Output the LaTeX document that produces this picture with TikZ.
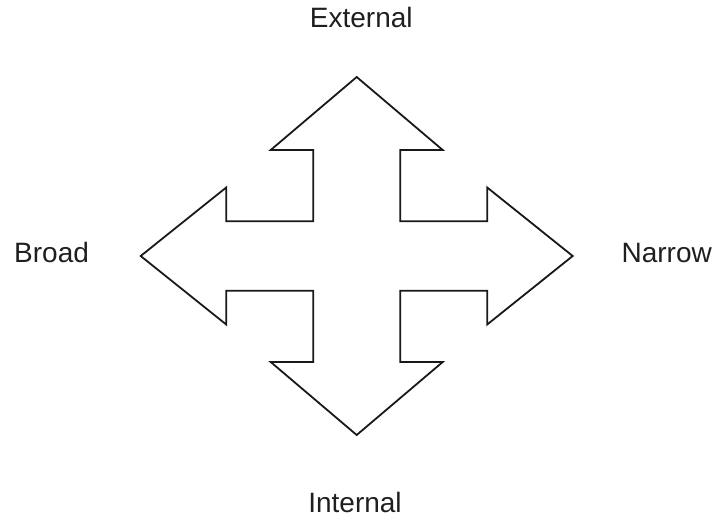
\documentclass[tikz,border=0pt]{standalone}
\usepackage{fontspec}
\setmainfont{Liberation Sans}
\begin{document}
\begin{tikzpicture}[x=1pt,y=-1pt,
  outline/.style={draw=black!90, line width=1.8pt, line join=miter},
  lbl/.style={inner sep=0pt, font=\fontsize{28}{32}\selectfont, text=black!88}]
\useasboundingbox (0,0) rectangle (716,517);

% centre of the four-way arrow and its proportions
\def\cx{356.7}\def\cy{256}
% vertical arms
\def\vtip{179}\def\vbase{106}\def\vhead{86}\def\vshaft{43.5}
% horizontal arms
\def\htip{216}\def\hbase{130.5}\def\hhead{68.5}\def\hshaft{34.8}

\draw[outline]
  (\cx,\cy-\vtip)
  -- (\cx+\vhead,\cy-\vbase) -- (\cx+\vshaft,\cy-\vbase)
  -- (\cx+\vshaft,\cy-\hshaft) -- (\cx+\hbase,\cy-\hshaft)
  -- (\cx+\hbase,\cy-\hhead) -- (\cx+\htip,\cy)
  -- (\cx+\hbase,\cy+\hhead) -- (\cx+\hbase,\cy+\hshaft)
  -- (\cx+\vshaft,\cy+\hshaft) -- (\cx+\vshaft,\cy+\vbase)
  -- (\cx+\vhead,\cy+\vbase) -- (\cx,\cy+\vtip)
  -- (\cx-\vhead,\cy+\vbase) -- (\cx-\vshaft,\cy+\vbase)
  -- (\cx-\vshaft,\cy+\hshaft) -- (\cx-\hbase,\cy+\hshaft)
  -- (\cx-\hbase,\cy+\hhead) -- (\cx-\htip,\cy)
  -- (\cx-\hbase,\cy-\hhead) -- (\cx-\hbase,\cy-\hshaft)
  -- (\cx-\vshaft,\cy-\hshaft) -- (\cx-\vshaft,\cy-\vbase)
  -- (\cx-\vhead,\cy-\vbase) -- cycle;

\node[lbl, anchor=base] (external) at (361.3,27.7) {External};
\node[lbl, anchor=base] (internal) at (355,512) {Internal};
\node[lbl, anchor=base west] (broad) at (14,262.3) {Broad};
\node[lbl, anchor=base east] (narrow) at (712,262.3) {Narrow};
\end{tikzpicture}
\end{document}
